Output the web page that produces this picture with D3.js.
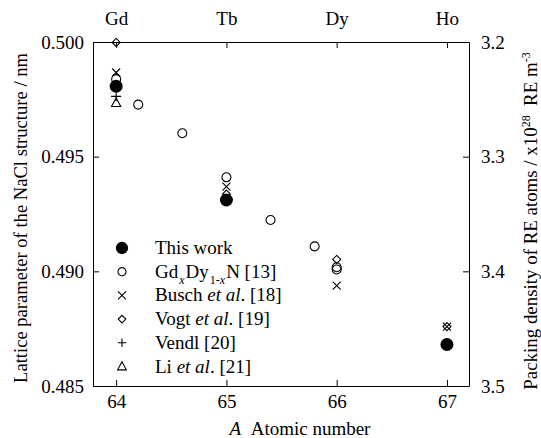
<!DOCTYPE html>
<html>
<head>
<meta charset="utf-8">
<script src="https://cdn.jsdelivr.net/npm/d3@7"></script>
<style>
  html, body { margin: 0; padding: 0; background: #fff; }
  svg text { font-family: "Liberation Serif", "Times New Roman", Times, serif; fill: #000; }
</style>
</head>
<body>
<svg id="chart" width="541" height="438"></svg>
<script>
// Atomic number ticks and element names shown along the top
const atomicTicks = [64, 65, 66, 67];
const elementNames = ["Gd", "Tb", "Dy", "Ho"];
const latticeTicks = [0.485, 0.490, 0.495, 0.500];
const densityTicks = [3.2, 3.3, 3.4, 3.5];

// Lattice parameters (nm) against atomic number, one list per source
const thisWorkA = [64, 65, 67];
const thisWorkLat = [0.49807, 0.49311, 0.48681];

const gdDyA = [64, 64.2, 64.6, 65, 65.4, 65.8, 66, 66];
const gdDyLat = [0.49838, 0.49727, 0.49602, 0.49410, 0.49224, 0.49109, 0.49018, 0.49008];

const buschA = [64, 65, 66, 67];
const buschLat = [0.49867, 0.49369, 0.48938, 0.48759];

const vogtA = [64, 65, 66, 67];
const vogtLat = [0.49998, 0.49337, 0.49052, 0.48759];

const vendlA = [64, 65];
const vendlLat = [0.49763, 0.49311];

const liA = [64];
const liLat = [0.49734];

const W = 541, H = 438;
const m = { left: 93, right: 72, top: 42, bottom: 52 };
const svg = d3.select("#chart");

const x = d3.scaleLinear().domain([63.79, 67.2]).range([m.left, W - m.right]);
const y = d3.scaleLinear().domain([0.485, 0.500]).range([H - m.bottom, m.top]);
const yR = d3.scaleLinear().domain([3.5, 3.2]).range([H - m.bottom, m.top]);

const fs = 19;

function styleAxis(g) {
  g.selectAll("path.domain").attr("stroke", "#000").attr("stroke-width", 1);
  g.selectAll(".tick line").attr("stroke", "#000").attr("stroke-width", 1);
  g.selectAll("text").attr("font-size", fs).attr("font-family", "Liberation Serif");
}

// Bottom axis: atomic numbers
svg.append("g")
  .attr("transform", `translate(0,${H - m.bottom})`)
  .call(d3.axisBottom(x).tickValues(atomicTicks).tickFormat(d3.format("d"))
    .tickSize(-6).tickSizeOuter(0).tickPadding(9))
  .call(styleAxis);

// Top axis: element symbols
svg.append("g")
  .attr("transform", `translate(0,${m.top})`)
  .call(d3.axisTop(x).tickValues(atomicTicks).tickFormat((d, i) => elementNames[i])
    .tickSize(-6).tickSizeOuter(0).tickPadding(17))
  .call(styleAxis);

// Left axis: lattice parameter
svg.append("g")
  .attr("transform", `translate(${m.left},0)`)
  .call(d3.axisLeft(y).tickValues(latticeTicks).tickFormat(d3.format(".3f"))
    .tickSize(-6).tickSizeOuter(0).tickPadding(9))
  .call(styleAxis);

// Right axis: packing density
svg.append("g")
  .attr("transform", `translate(${W - m.right},0)`)
  .call(d3.axisRight(yR).tickValues(densityTicks).tickFormat(d3.format(".1f"))
    .tickSize(-6).tickSizeOuter(0).tickPadding(12))
  .call(styleAxis);

// Axis titles
const xt = svg.append("text")
  .attr("x", 300).attr("y", 435)
  .attr("text-anchor", "middle").attr("font-size", fs);
xt.append("tspan").attr("font-style", "italic").text("A");
xt.append("tspan").text("\u2002Atomic number");

svg.append("text")
  .attr("transform", `translate(27,218) rotate(-90)`)
  .attr("text-anchor", "middle").attr("font-size", 18.6)
  .text("Lattice parameter of the NaCl structure / nm");

const rt = svg.append("text")
  .attr("transform", `translate(537,221) rotate(-90)`)
  .attr("text-anchor", "middle").attr("font-size", 18.9);
rt.append("tspan").text("Packing density of RE atoms / x10");
rt.append("tspan").attr("font-size", 12).attr("dy", -7).text("28");
rt.append("tspan").attr("dy", 7).text("\u2002RE m");
rt.append("tspan").attr("font-size", 12).attr("dy", -7).text("-3");

// Marker drawers
const markers = {
  filled: (g, s) => g.append("circle").attr("r", 6.5 * s).attr("fill", "#000"),
  open: (g, s) => g.append("circle").attr("r", 4.5 * s).attr("fill", "none").attr("stroke", "#000").attr("stroke-width", 1.1),
  cross: (g, s) => g.append("path").attr("d", `M${-4 * s},${-4 * s}L${4 * s},${4 * s}M${-4 * s},${4 * s}L${4 * s},${-4 * s}`)
    .attr("stroke", "#000").attr("stroke-width", 1.1).attr("fill", "none"),
  diamond: (g, s) => g.append("path").attr("d", `M0,${-4 * s}L${4 * s},0L0,${4 * s}L${-4 * s},0Z`)
    .attr("stroke", "#000").attr("stroke-width", 1.1).attr("fill", "none"),
  plus: (g, s) => g.append("path").attr("d", `M${-5 * s},0L${5 * s},0M0,${-5 * s}L0,${5 * s}`)
    .attr("stroke", "#000").attr("stroke-width", 1.1).attr("fill", "none"),
  triangle: (g, s) => g.append("path").attr("d", `M0,${-5 * s}L${4.6 * s},${3.5 * s}L${-4.6 * s},${3.5 * s}Z`)
    .attr("stroke", "#000").attr("stroke-width", 1.1).attr("fill", "none")
};

const series = [
  { xs: liA, ys: liLat, mk: "triangle" },
  { xs: vendlA, ys: vendlLat, mk: "plus" },
  { xs: gdDyA, ys: gdDyLat, mk: "open" },
  { xs: thisWorkA, ys: thisWorkLat, mk: "filled" },
  { xs: buschA, ys: buschLat, mk: "cross" },
  { xs: vogtA, ys: vogtLat, mk: "diamond" }
];

const plot = svg.append("g");
series.forEach(s => {
  s.xs.forEach((a, i) => {
    const g = plot.append("g").attr("transform", `translate(${x(a)},${y(s.ys[i])})`);
    markers[s.mk](g, 1);
  });
});

// Legend
const legendItems = [
  { mk: "filled", s: 0.95, parts: [["This work"]] },
  { mk: "open", s: 0.9, parts: [["Gd"], ["x", "sub-i"], ["Dy"], ["1-", "sub"], ["x", "sub-i"], ["N [13]"]] },
  { mk: "cross", s: 1, parts: [["Busch "], ["et al", "i"], [". [18]"]] },
  { mk: "diamond", s: 0.95, parts: [["Vogt "], ["et al", "i"], [". [19]"]] },
  { mk: "plus", s: 0.85, parts: [["Vendl [20]"]] },
  { mk: "triangle", s: 0.95, parts: [["Li "], ["et al", "i"], [". [21]"]] }
];
const lx = 122, ly0 = 248, ldy = 23.7, tx = 155;
legendItems.forEach((it, i) => {
  const cy = ly0 + i * ldy;
  const g = svg.append("g").attr("transform", `translate(${lx},${cy})`);
  markers[it.mk](g, it.s);
  const t = svg.append("text").attr("x", tx).attr("y", cy + 6).attr("font-size", fs);
  let sub = false;
  it.parts.forEach(([str, kind]) => {
    const sp = t.append("tspan").text(str);
    const isSub = kind === "sub" || kind === "sub-i";
    if (isSub && !sub) sp.attr("dy", 6).attr("dx", 1);
    if (!isSub && sub) sp.attr("dy", -6).attr("dx", 1);
    if (isSub) sp.attr("font-size", 12);
    if (kind === "i" || kind === "sub-i") sp.attr("font-style", "italic");
    sub = isSub;
  });
});
</script>
</body>
</html>
